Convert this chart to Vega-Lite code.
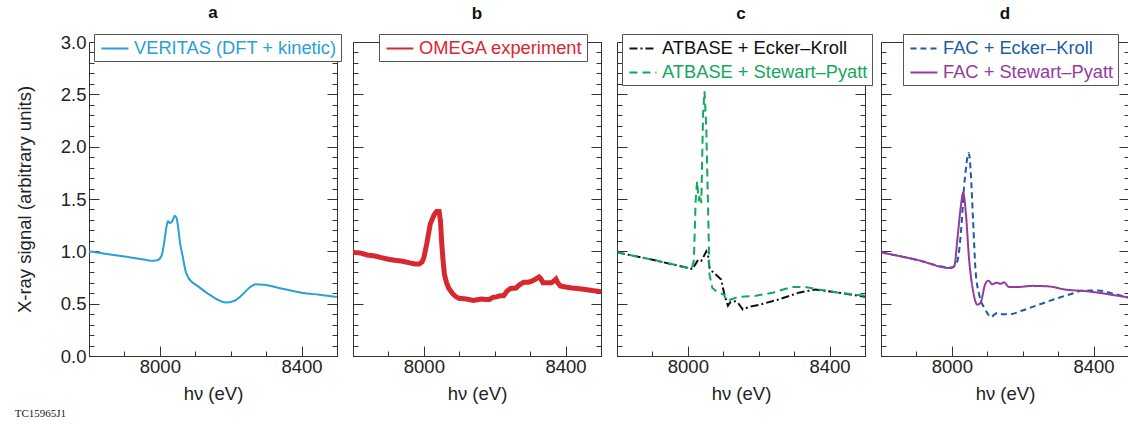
{
  "$schema": "https://vega.github.io/schema/vega-lite/v6.json",
  "padding": {"left": 14, "top": 3, "right": 0, "bottom": 0},
  "bounds": "flush",
  "spacing": 16,
  "title": {"text": "TC15965J1", "orient": "bottom", "anchor": "start", "font": "Liberation Serif", "fontSize": 11, "fontWeight": "normal", "offset": 4, "color": "#222"},
  "datasets": {
    "a": [
      {"s": "VERITAS (DFT + kinetic)", "E": 7800, "v": 1.0},
      {"s": "VERITAS (DFT + kinetic)", "E": 7850, "v": 0.975},
      {"s": "VERITAS (DFT + kinetic)", "E": 7900, "v": 0.95},
      {"s": "VERITAS (DFT + kinetic)", "E": 7950, "v": 0.925},
      {"s": "VERITAS (DFT + kinetic)", "E": 7975, "v": 0.91},
      {"s": "VERITAS (DFT + kinetic)", "E": 7993, "v": 0.915},
      {"s": "VERITAS (DFT + kinetic)", "E": 8005, "v": 0.96},
      {"s": "VERITAS (DFT + kinetic)", "E": 8012, "v": 1.08},
      {"s": "VERITAS (DFT + kinetic)", "E": 8018, "v": 1.22},
      {"s": "VERITAS (DFT + kinetic)", "E": 8023, "v": 1.29},
      {"s": "VERITAS (DFT + kinetic)", "E": 8028, "v": 1.27},
      {"s": "VERITAS (DFT + kinetic)", "E": 8033, "v": 1.28},
      {"s": "VERITAS (DFT + kinetic)", "E": 8038, "v": 1.31},
      {"s": "VERITAS (DFT + kinetic)", "E": 8042, "v": 1.34},
      {"s": "VERITAS (DFT + kinetic)", "E": 8047, "v": 1.32},
      {"s": "VERITAS (DFT + kinetic)", "E": 8052, "v": 1.22},
      {"s": "VERITAS (DFT + kinetic)", "E": 8057, "v": 1.08},
      {"s": "VERITAS (DFT + kinetic)", "E": 8064, "v": 0.96},
      {"s": "VERITAS (DFT + kinetic)", "E": 8072, "v": 0.82},
      {"s": "VERITAS (DFT + kinetic)", "E": 8080, "v": 0.75},
      {"s": "VERITAS (DFT + kinetic)", "E": 8090, "v": 0.71},
      {"s": "VERITAS (DFT + kinetic)", "E": 8106, "v": 0.67},
      {"s": "VERITAS (DFT + kinetic)", "E": 8134, "v": 0.6},
      {"s": "VERITAS (DFT + kinetic)", "E": 8162, "v": 0.54},
      {"s": "VERITAS (DFT + kinetic)", "E": 8186, "v": 0.51},
      {"s": "VERITAS (DFT + kinetic)", "E": 8209, "v": 0.525},
      {"s": "VERITAS (DFT + kinetic)", "E": 8228, "v": 0.57},
      {"s": "VERITAS (DFT + kinetic)", "E": 8252, "v": 0.65},
      {"s": "VERITAS (DFT + kinetic)", "E": 8270, "v": 0.685},
      {"s": "VERITAS (DFT + kinetic)", "E": 8294, "v": 0.68},
      {"s": "VERITAS (DFT + kinetic)", "E": 8350, "v": 0.64},
      {"s": "VERITAS (DFT + kinetic)", "E": 8400, "v": 0.605},
      {"s": "VERITAS (DFT + kinetic)", "E": 8450, "v": 0.585},
      {"s": "VERITAS (DFT + kinetic)", "E": 8500, "v": 0.565}
    ],
    "b": [
      {"s": "OMEGA experiment", "E": 7800, "v": 0.99},
      {"s": "OMEGA experiment", "E": 7820, "v": 0.985},
      {"s": "OMEGA experiment", "E": 7840, "v": 0.965},
      {"s": "OMEGA experiment", "E": 7862, "v": 0.955},
      {"s": "OMEGA experiment", "E": 7880, "v": 0.94},
      {"s": "OMEGA experiment", "E": 7900, "v": 0.925},
      {"s": "OMEGA experiment", "E": 7918, "v": 0.914},
      {"s": "OMEGA experiment", "E": 7940, "v": 0.905},
      {"s": "OMEGA experiment", "E": 7960, "v": 0.89},
      {"s": "OMEGA experiment", "E": 7975, "v": 0.88},
      {"s": "OMEGA experiment", "E": 7987, "v": 0.88},
      {"s": "OMEGA experiment", "E": 7995, "v": 0.9},
      {"s": "OMEGA experiment", "E": 8000, "v": 0.94},
      {"s": "OMEGA experiment", "E": 8008, "v": 1.07},
      {"s": "OMEGA experiment", "E": 8018, "v": 1.26},
      {"s": "OMEGA experiment", "E": 8029, "v": 1.35},
      {"s": "OMEGA experiment", "E": 8036, "v": 1.38},
      {"s": "OMEGA experiment", "E": 8043, "v": 1.38},
      {"s": "OMEGA experiment", "E": 8047, "v": 1.29},
      {"s": "OMEGA experiment", "E": 8050, "v": 1.1},
      {"s": "OMEGA experiment", "E": 8054, "v": 0.92},
      {"s": "OMEGA experiment", "E": 8058, "v": 0.78},
      {"s": "OMEGA experiment", "E": 8064, "v": 0.7},
      {"s": "OMEGA experiment", "E": 8070, "v": 0.65},
      {"s": "OMEGA experiment", "E": 8080, "v": 0.6},
      {"s": "OMEGA experiment", "E": 8089, "v": 0.57},
      {"s": "OMEGA experiment", "E": 8100, "v": 0.55},
      {"s": "OMEGA experiment", "E": 8107, "v": 0.55},
      {"s": "OMEGA experiment", "E": 8120, "v": 0.545},
      {"s": "OMEGA experiment", "E": 8140, "v": 0.53},
      {"s": "OMEGA experiment", "E": 8155, "v": 0.54},
      {"s": "OMEGA experiment", "E": 8163, "v": 0.545},
      {"s": "OMEGA experiment", "E": 8175, "v": 0.54},
      {"s": "OMEGA experiment", "E": 8185, "v": 0.54},
      {"s": "OMEGA experiment", "E": 8195, "v": 0.56},
      {"s": "OMEGA experiment", "E": 8205, "v": 0.565},
      {"s": "OMEGA experiment", "E": 8215, "v": 0.575},
      {"s": "OMEGA experiment", "E": 8225, "v": 0.575},
      {"s": "OMEGA experiment", "E": 8235, "v": 0.62},
      {"s": "OMEGA experiment", "E": 8245, "v": 0.645},
      {"s": "OMEGA experiment", "E": 8260, "v": 0.65},
      {"s": "OMEGA experiment", "E": 8270, "v": 0.68},
      {"s": "OMEGA experiment", "E": 8282, "v": 0.705},
      {"s": "OMEGA experiment", "E": 8295, "v": 0.705},
      {"s": "OMEGA experiment", "E": 8305, "v": 0.715},
      {"s": "OMEGA experiment", "E": 8318, "v": 0.74},
      {"s": "OMEGA experiment", "E": 8325, "v": 0.755},
      {"s": "OMEGA experiment", "E": 8330, "v": 0.74},
      {"s": "OMEGA experiment", "E": 8336, "v": 0.7},
      {"s": "OMEGA experiment", "E": 8350, "v": 0.7},
      {"s": "OMEGA experiment", "E": 8360, "v": 0.7},
      {"s": "OMEGA experiment", "E": 8368, "v": 0.72},
      {"s": "OMEGA experiment", "E": 8373, "v": 0.735},
      {"s": "OMEGA experiment", "E": 8378, "v": 0.7},
      {"s": "OMEGA experiment", "E": 8385, "v": 0.67},
      {"s": "OMEGA experiment", "E": 8400, "v": 0.66},
      {"s": "OMEGA experiment", "E": 8418, "v": 0.65},
      {"s": "OMEGA experiment", "E": 8435, "v": 0.645},
      {"s": "OMEGA experiment", "E": 8455, "v": 0.635},
      {"s": "OMEGA experiment", "E": 8475, "v": 0.625},
      {"s": "OMEGA experiment", "E": 8500, "v": 0.615}
    ],
    "c": [
      {"s": "ATBASE + Ecker–Kroll", "E": 7800, "v": 0.99},
      {"s": "ATBASE + Ecker–Kroll", "E": 7900, "v": 0.92},
      {"s": "ATBASE + Ecker–Kroll", "E": 7996, "v": 0.845},
      {"s": "ATBASE + Ecker–Kroll", "E": 8013, "v": 0.83},
      {"s": "ATBASE + Ecker–Kroll", "E": 8022, "v": 0.88},
      {"s": "ATBASE + Ecker–Kroll", "E": 8029, "v": 0.92},
      {"s": "ATBASE + Ecker–Kroll", "E": 8038, "v": 0.91},
      {"s": "ATBASE + Ecker–Kroll", "E": 8046, "v": 0.96},
      {"s": "ATBASE + Ecker–Kroll", "E": 8052, "v": 1.0},
      {"s": "ATBASE + Ecker–Kroll", "E": 8057, "v": 0.96},
      {"s": "ATBASE + Ecker–Kroll", "E": 8061, "v": 0.845},
      {"s": "ATBASE + Ecker–Kroll", "E": 8071, "v": 0.8},
      {"s": "ATBASE + Ecker–Kroll", "E": 8085, "v": 0.76},
      {"s": "ATBASE + Ecker–Kroll", "E": 8094, "v": 0.73},
      {"s": "ATBASE + Ecker–Kroll", "E": 8103, "v": 0.59},
      {"s": "ATBASE + Ecker–Kroll", "E": 8113, "v": 0.48},
      {"s": "ATBASE + Ecker–Kroll", "E": 8120, "v": 0.515},
      {"s": "ATBASE + Ecker–Kroll", "E": 8127, "v": 0.525},
      {"s": "ATBASE + Ecker–Kroll", "E": 8135, "v": 0.52},
      {"s": "ATBASE + Ecker–Kroll", "E": 8141, "v": 0.51},
      {"s": "ATBASE + Ecker–Kroll", "E": 8155, "v": 0.445},
      {"s": "ATBASE + Ecker–Kroll", "E": 8174, "v": 0.47},
      {"s": "ATBASE + Ecker–Kroll", "E": 8202, "v": 0.49},
      {"s": "ATBASE + Ecker–Kroll", "E": 8257, "v": 0.54},
      {"s": "ATBASE + Ecker–Kroll", "E": 8313, "v": 0.605},
      {"s": "ATBASE + Ecker–Kroll", "E": 8360, "v": 0.635},
      {"s": "ATBASE + Ecker–Kroll", "E": 8426, "v": 0.605},
      {"s": "ATBASE + Ecker–Kroll", "E": 8500, "v": 0.565},
      {"s": "ATBASE + Stewart–Pyatt", "E": 7800, "v": 0.99},
      {"s": "ATBASE + Stewart–Pyatt", "E": 7900, "v": 0.92},
      {"s": "ATBASE + Stewart–Pyatt", "E": 7996, "v": 0.845},
      {"s": "ATBASE + Stewart–Pyatt", "E": 8010, "v": 0.83},
      {"s": "ATBASE + Stewart–Pyatt", "E": 8017, "v": 0.91},
      {"s": "ATBASE + Stewart–Pyatt", "E": 8022, "v": 1.48},
      {"s": "ATBASE + Stewart–Pyatt", "E": 8026, "v": 1.67},
      {"s": "ATBASE + Stewart–Pyatt", "E": 8029, "v": 1.55},
      {"s": "ATBASE + Stewart–Pyatt", "E": 8031, "v": 1.48},
      {"s": "ATBASE + Stewart–Pyatt", "E": 8033, "v": 1.545},
      {"s": "ATBASE + Stewart–Pyatt", "E": 8036, "v": 1.5},
      {"s": "ATBASE + Stewart–Pyatt", "E": 8038, "v": 1.46},
      {"s": "ATBASE + Stewart–Pyatt", "E": 8043, "v": 2.31},
      {"s": "ATBASE + Stewart–Pyatt", "E": 8047, "v": 2.53},
      {"s": "ATBASE + Stewart–Pyatt", "E": 8052, "v": 2.18},
      {"s": "ATBASE + Stewart–Pyatt", "E": 8057, "v": 1.42},
      {"s": "ATBASE + Stewart–Pyatt", "E": 8061, "v": 0.78},
      {"s": "ATBASE + Stewart–Pyatt", "E": 8069, "v": 0.65},
      {"s": "ATBASE + Stewart–Pyatt", "E": 8085, "v": 0.605},
      {"s": "ATBASE + Stewart–Pyatt", "E": 8101, "v": 0.59},
      {"s": "ATBASE + Stewart–Pyatt", "E": 8110, "v": 0.525},
      {"s": "ATBASE + Stewart–Pyatt", "E": 8122, "v": 0.54},
      {"s": "ATBASE + Stewart–Pyatt", "E": 8141, "v": 0.565},
      {"s": "ATBASE + Stewart–Pyatt", "E": 8192, "v": 0.575},
      {"s": "ATBASE + Stewart–Pyatt", "E": 8239, "v": 0.605},
      {"s": "ATBASE + Stewart–Pyatt", "E": 8295, "v": 0.66},
      {"s": "ATBASE + Stewart–Pyatt", "E": 8332, "v": 0.66},
      {"s": "ATBASE + Stewart–Pyatt", "E": 8370, "v": 0.635},
      {"s": "ATBASE + Stewart–Pyatt", "E": 8426, "v": 0.605},
      {"s": "ATBASE + Stewart–Pyatt", "E": 8500, "v": 0.575}
    ],
    "d": [
      {"s": "FAC + Ecker–Kroll", "E": 7800, "v": 0.99},
      {"s": "FAC + Ecker–Kroll", "E": 7900, "v": 0.92},
      {"s": "FAC + Ecker–Kroll", "E": 7997, "v": 0.845},
      {"s": "FAC + Ecker–Kroll", "E": 8008, "v": 0.86},
      {"s": "FAC + Ecker–Kroll", "E": 8016, "v": 0.91},
      {"s": "FAC + Ecker–Kroll", "E": 8022, "v": 1.05},
      {"s": "FAC + Ecker–Kroll", "E": 8028, "v": 1.29},
      {"s": "FAC + Ecker–Kroll", "E": 8034, "v": 1.6},
      {"s": "FAC + Ecker–Kroll", "E": 8039, "v": 1.77},
      {"s": "FAC + Ecker–Kroll", "E": 8044, "v": 1.9},
      {"s": "FAC + Ecker–Kroll", "E": 8047, "v": 1.94},
      {"s": "FAC + Ecker–Kroll", "E": 8050, "v": 1.9},
      {"s": "FAC + Ecker–Kroll", "E": 8053, "v": 1.77},
      {"s": "FAC + Ecker–Kroll", "E": 8060, "v": 1.29},
      {"s": "FAC + Ecker–Kroll", "E": 8067, "v": 0.81},
      {"s": "FAC + Ecker–Kroll", "E": 8077, "v": 0.59},
      {"s": "FAC + Ecker–Kroll", "E": 8091, "v": 0.46},
      {"s": "FAC + Ecker–Kroll", "E": 8100, "v": 0.41},
      {"s": "FAC + Ecker–Kroll", "E": 8110, "v": 0.37},
      {"s": "FAC + Ecker–Kroll", "E": 8120, "v": 0.395},
      {"s": "FAC + Ecker–Kroll", "E": 8128, "v": 0.41},
      {"s": "FAC + Ecker–Kroll", "E": 8142, "v": 0.4},
      {"s": "FAC + Ecker–Kroll", "E": 8166, "v": 0.4},
      {"s": "FAC + Ecker–Kroll", "E": 8199, "v": 0.435},
      {"s": "FAC + Ecker–Kroll", "E": 8245, "v": 0.49},
      {"s": "FAC + Ecker–Kroll", "E": 8292, "v": 0.545},
      {"s": "FAC + Ecker–Kroll", "E": 8339, "v": 0.595},
      {"s": "FAC + Ecker–Kroll", "E": 8372, "v": 0.625},
      {"s": "FAC + Ecker–Kroll", "E": 8414, "v": 0.625},
      {"s": "FAC + Ecker–Kroll", "E": 8450, "v": 0.6},
      {"s": "FAC + Ecker–Kroll", "E": 8500, "v": 0.555},
      {"s": "FAC + Stewart–Pyatt", "E": 7800, "v": 0.99},
      {"s": "FAC + Stewart–Pyatt", "E": 7900, "v": 0.92},
      {"s": "FAC + Stewart–Pyatt", "E": 7997, "v": 0.84},
      {"s": "FAC + Stewart–Pyatt", "E": 8007, "v": 0.86},
      {"s": "FAC + Stewart–Pyatt", "E": 8016, "v": 1.13},
      {"s": "FAC + Stewart–Pyatt", "E": 8025, "v": 1.42},
      {"s": "FAC + Stewart–Pyatt", "E": 8032, "v": 1.56},
      {"s": "FAC + Stewart–Pyatt", "E": 8039, "v": 1.385},
      {"s": "FAC + Stewart–Pyatt", "E": 8049, "v": 0.91},
      {"s": "FAC + Stewart–Pyatt", "E": 8060, "v": 0.62},
      {"s": "FAC + Stewart–Pyatt", "E": 8072, "v": 0.49},
      {"s": "FAC + Stewart–Pyatt", "E": 8081, "v": 0.51},
      {"s": "FAC + Stewart–Pyatt", "E": 8094, "v": 0.685},
      {"s": "FAC + Stewart–Pyatt", "E": 8103, "v": 0.72},
      {"s": "FAC + Stewart–Pyatt", "E": 8114, "v": 0.685},
      {"s": "FAC + Stewart–Pyatt", "E": 8126, "v": 0.7},
      {"s": "FAC + Stewart–Pyatt", "E": 8138, "v": 0.69},
      {"s": "FAC + Stewart–Pyatt", "E": 8147, "v": 0.705},
      {"s": "FAC + Stewart–Pyatt", "E": 8161, "v": 0.66},
      {"s": "FAC + Stewart–Pyatt", "E": 8189, "v": 0.66},
      {"s": "FAC + Stewart–Pyatt", "E": 8227, "v": 0.67},
      {"s": "FAC + Stewart–Pyatt", "E": 8273, "v": 0.665},
      {"s": "FAC + Stewart–Pyatt", "E": 8320, "v": 0.635},
      {"s": "FAC + Stewart–Pyatt", "E": 8376, "v": 0.62},
      {"s": "FAC + Stewart–Pyatt", "E": 8414, "v": 0.605},
      {"s": "FAC + Stewart–Pyatt", "E": 8450, "v": 0.585},
      {"s": "FAC + Stewart–Pyatt", "E": 8500, "v": 0.56}
    ]
  },
  "hconcat": [
    {
      "width": 248, "height": 314,
      "title": {"text": "a"},
      "data": {"name": "a"},
      "layer": [
        {
          "mark": {"type": "line", "strokeWidth": 2, "interpolate": "monotone"},
          "encoding": {
            "x": {"field": "E", "type": "quantitative", "scale": {"domain": [7800, 8500], "nice": false},
              "axis": {"values": [7900, 8000, 8100, 8200, 8300, 8400], "format": "d", "labelExpr": "datum.value == 8000 || datum.value == 8400 ? datum.label : ''", "tickSize": {"condition": {"test": "datum.value == 8000 || datum.value == 8400", "value": -10}, "value": -5}, "labelPadding": 11, "title": "hν (eV)"}},
            "y": {"field": "v", "type": "quantitative", "scale": {"domain": [0, 3], "nice": false},
              "axis": {"orient": "left", "values": [0,0.1,0.2,0.3,0.4,0.5,0.6,0.7,0.8,0.9,1,1.1,1.2,1.3,1.4,1.5,1.6,1.7,1.8,1.9,2,2.1,2.2,2.3,2.4,2.5,2.6,2.7,2.8,2.9,3], "labelExpr": "datum.value % 0.5 == 0 ? format(datum.value, '.1f') : ''", "tickSize": {"condition": {"test": "datum.value % 0.5 == 0", "value": -10}, "value": -5}, "labelPadding": 13, "title": "X-ray signal (arbitrary units)", "titlePadding": 26}},
            "color": {"field": "s", "type": "nominal", "scale": {"domain": ["VERITAS (DFT + kinetic)"], "range": ["#2a9fd8"]},
              "legend": {"orient": "none", "legendX": 5, "legendY": -8, "title": null, "labelColor": "#2a9fd8"}}
          }
        },
        {
          "mark": {"type": "point", "opacity": 0},
          "encoding": {
            "y": {"field": "v", "type": "quantitative", "axis": {"orient": "right", "values": [0,0.1,0.2,0.3,0.4,0.5,0.6,0.7,0.8,0.9,1,1.1,1.2,1.3,1.4,1.5,1.6,1.7,1.8,1.9,2,2.1,2.2,2.3,2.4,2.5,2.6,2.7,2.8,2.9,3], "labels": false, "title": null, "tickSize": {"condition": {"test": "datum.value % 0.5 == 0", "value": -10}, "value": -5}}}
          }
        }
      ],
      "resolve": {"axis": {"y": "independent"}}
    },
    {
      "width": 248, "height": 314,
      "title": {"text": "b"},
      "data": {"name": "b"},
      "layer": [
        {
          "mark": {"type": "line"},
          "encoding": {
            "x": {"field": "E", "type": "quantitative", "scale": {"domain": [7800, 8500], "nice": false},
              "axis": {"values": [7900, 8000, 8100, 8200, 8300, 8400], "format": "d", "labelExpr": "datum.value == 8000 || datum.value == 8400 ? datum.label : ''", "tickSize": {"condition": {"test": "datum.value == 8000 || datum.value == 8400", "value": -10}, "value": -5}, "labelPadding": 11, "title": "hν (eV)"}},
            "y": {"field": "v", "type": "quantitative", "scale": {"domain": [0, 3], "nice": false},
              "axis": {"orient": "left", "values": [0,0.1,0.2,0.3,0.4,0.5,0.6,0.7,0.8,0.9,1,1.1,1.2,1.3,1.4,1.5,1.6,1.7,1.8,1.9,2,2.1,2.2,2.3,2.4,2.5,2.6,2.7,2.8,2.9,3], "labels": false, "title": null, "tickSize": {"condition": {"test": "datum.value % 0.5 == 0", "value": -10}, "value": -5}}},
            "strokeWidth": {"value": 5},
            "color": {"field": "s", "type": "nominal", "scale": {"domain": ["OMEGA experiment"], "range": ["#d7282f"]},
              "legend": {"orient": "none", "legendX": 26, "legendY": -8, "title": null, "labelColor": "#d7282f", "symbolStrokeWidth": 2}}
          }
        },
        {
          "mark": {"type": "point", "opacity": 0},
          "encoding": {
            "y": {"field": "v", "type": "quantitative", "axis": {"orient": "right", "values": [0,0.1,0.2,0.3,0.4,0.5,0.6,0.7,0.8,0.9,1,1.1,1.2,1.3,1.4,1.5,1.6,1.7,1.8,1.9,2,2.1,2.2,2.3,2.4,2.5,2.6,2.7,2.8,2.9,3], "labels": false, "title": null, "tickSize": {"condition": {"test": "datum.value % 0.5 == 0", "value": -10}, "value": -5}}}
          }
        }
      ],
      "resolve": {"axis": {"y": "independent"}}
    },
    {
      "width": 248, "height": 314,
      "title": {"text": "c"},
      "data": {"name": "c"},
      "layer": [
        {
          "mark": {"type": "line", "strokeWidth": 2},
          "encoding": {
            "x": {"field": "E", "type": "quantitative", "scale": {"domain": [7800, 8500], "nice": false},
              "axis": {"values": [7900, 8000, 8100, 8200, 8300, 8400], "format": "d", "labelExpr": "datum.value == 8000 || datum.value == 8400 ? datum.label : ''", "tickSize": {"condition": {"test": "datum.value == 8000 || datum.value == 8400", "value": -10}, "value": -5}, "labelPadding": 11, "title": "hν (eV)"}},
            "y": {"field": "v", "type": "quantitative", "scale": {"domain": [0, 3], "nice": false},
              "axis": {"orient": "left", "values": [0,0.1,0.2,0.3,0.4,0.5,0.6,0.7,0.8,0.9,1,1.1,1.2,1.3,1.4,1.5,1.6,1.7,1.8,1.9,2,2.1,2.2,2.3,2.4,2.5,2.6,2.7,2.8,2.9,3], "labels": false, "title": null, "tickSize": {"condition": {"test": "datum.value % 0.5 == 0", "value": -10}, "value": -5}}},
            "color": {"field": "s", "type": "nominal", "scale": {"domain": ["ATBASE + Ecker–Kroll", "ATBASE + Stewart–Pyatt"], "range": ["#111111", "#14a85c"]},
              "legend": {"orient": "none", "legendX": 5, "legendY": -8, "title": null, "labelColor": {"expr": "datum.value == 'ATBASE + Ecker–Kroll' ? '#111111' : '#14a85c'"}}},
            "strokeDash": {"field": "s", "type": "nominal", "scale": {"domain": ["ATBASE + Ecker–Kroll", "ATBASE + Stewart–Pyatt"], "range": [[8, 3, 2, 3], [8, 5]]}, "legend": {"orient": "none", "legendX": 5, "legendY": -8, "title": null}}
          }
        },
        {
          "mark": {"type": "point", "opacity": 0},
          "encoding": {
            "y": {"field": "v", "type": "quantitative", "axis": {"orient": "right", "values": [0,0.1,0.2,0.3,0.4,0.5,0.6,0.7,0.8,0.9,1,1.1,1.2,1.3,1.4,1.5,1.6,1.7,1.8,1.9,2,2.1,2.2,2.3,2.4,2.5,2.6,2.7,2.8,2.9,3], "labels": false, "title": null, "tickSize": {"condition": {"test": "datum.value % 0.5 == 0", "value": -10}, "value": -5}}}
          }
        }
      ],
      "resolve": {"axis": {"y": "independent"}}
    },
    {
      "width": 248, "height": 314,
      "title": {"text": "d"},
      "data": {"name": "d"},
      "layer": [
        {
          "mark": {"type": "line", "strokeWidth": 2, "interpolate": "monotone"},
          "encoding": {
            "x": {"field": "E", "type": "quantitative", "scale": {"domain": [7800, 8500], "nice": false},
              "axis": {"values": [7900, 8000, 8100, 8200, 8300, 8400], "format": "d", "labelExpr": "datum.value == 8000 || datum.value == 8400 ? datum.label : ''", "tickSize": {"condition": {"test": "datum.value == 8000 || datum.value == 8400", "value": -10}, "value": -5}, "labelPadding": 11, "title": "hν (eV)"}},
            "y": {"field": "v", "type": "quantitative", "scale": {"domain": [0, 3], "nice": false},
              "axis": {"orient": "left", "values": [0,0.1,0.2,0.3,0.4,0.5,0.6,0.7,0.8,0.9,1,1.1,1.2,1.3,1.4,1.5,1.6,1.7,1.8,1.9,2,2.1,2.2,2.3,2.4,2.5,2.6,2.7,2.8,2.9,3], "labels": false, "title": null, "tickSize": {"condition": {"test": "datum.value % 0.5 == 0", "value": -10}, "value": -5}}},
            "color": {"field": "s", "type": "nominal", "scale": {"domain": ["FAC + Ecker–Kroll", "FAC + Stewart–Pyatt"], "range": ["#1c5ca8", "#923c9d"]},
              "legend": {"orient": "none", "legendX": 22, "legendY": -8, "title": null, "labelColor": {"expr": "datum.value == 'FAC + Ecker–Kroll' ? '#1c5ca8' : '#923c9d'"}}},
            "strokeDash": {"field": "s", "type": "nominal", "scale": {"domain": ["FAC + Ecker–Kroll", "FAC + Stewart–Pyatt"], "range": [[6, 4], [1, 0]]}, "legend": {"orient": "none", "legendX": 22, "legendY": -8, "title": null}}
          }
        },
        {
          "mark": {"type": "point", "opacity": 0},
          "encoding": {
            "y": {"field": "v", "type": "quantitative", "axis": {"orient": "right", "values": [0,0.1,0.2,0.3,0.4,0.5,0.6,0.7,0.8,0.9,1,1.1,1.2,1.3,1.4,1.5,1.6,1.7,1.8,1.9,2,2.1,2.2,2.3,2.4,2.5,2.6,2.7,2.8,2.9,3], "labels": false, "title": null, "tickSize": {"condition": {"test": "datum.value % 0.5 == 0", "value": -10}, "value": -5}}}
          }
        }
      ],
      "resolve": {"axis": {"y": "independent"}}
    }
  ],
  "resolve": {"scale": {"color": "independent", "strokeDash": "independent"}, "legend": {"color": "independent", "strokeDash": "independent"}},
  "config": {
    "font": "Liberation Sans",
    "view": {"stroke": "#333333", "strokeWidth": 1},
    "axis": {"grid": false, "domainColor": "#333333", "tickColor": "#333333", "labelFontSize": 18.5, "titleFontSize": 18.5, "titleFontWeight": "normal", "labelColor": "#222222", "titleColor": "#222222", "labelFont": "Liberation Sans", "titleFont": "Liberation Sans", "labelOverlap": false, "labelFlush": false, "titlePadding": 4},
    "legend": {"fillColor": "white", "strokeColor": "#555555", "padding": 4, "labelFontSize": 18.3, "labelFont": "Liberation Sans", "symbolType": "M-0.74,0H2.1", "symbolSize": 361, "symbolStrokeWidth": 2, "rowPadding": 5, "labelOffset": 15, "labelLimit": 400},
    "title": {"fontSize": 17, "fontWeight": "bold", "color": "#111111", "offset": 11, "font": "Liberation Sans"}
  }
}
